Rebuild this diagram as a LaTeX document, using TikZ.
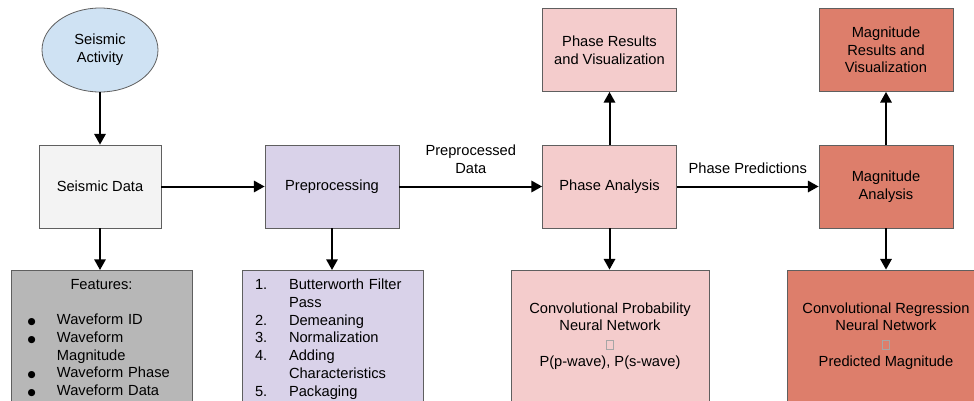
\documentclass[tikz,border=0pt]{standalone}
\usepackage{fontspec}
\setmainfont{Liberation Sans}
\newfontfamily\symfont{DejaVu Sans}
\usepackage{xcolor}
\definecolor{skyfill}{HTML}{CFE2F3}
\definecolor{datafill}{HTML}{F3F3F3}
\definecolor{prepfill}{HTML}{D9D2E9}
\definecolor{phasefill}{HTML}{F4CCCC}
\definecolor{magfill}{HTML}{DD7E6B}
\definecolor{featfill}{HTML}{B7B7B7}
\definecolor{edgegray}{HTML}{5F5F5F}
\usepackage{tikz}
\usetikzlibrary{shapes.geometric,arrows.meta,positioning}
\newcommand{\boxfont}{\fontsize{11}{13.3}\selectfont}
\newcommand{\dotmark}{{\symfont\fontsize{7}{7}\selectfont\char"25CF}}
\newcommand{\featline}[1]{\makebox[135.75pt][l]{\hspace*{12.5pt}\makebox[22pt][l]{\dotmark}#1}}
\newcommand{\featcont}[1]{\makebox[135.75pt][l]{\hspace*{34.5pt}#1}}
\newcommand{\stepline}[2]{\makebox[135.75pt][l]{\hspace*{9.75pt}\makebox[25.5pt][l]{#1}#2}}
\newcommand{\missglyph}{{\color{black!35}\fboxsep=0pt\fboxrule=0.5pt\fbox{\rule{0pt}{6pt}\hspace{4.5pt}}}}
\tikzset{
  srcnode/.style={
    ellipse, draw=edgegray, fill=skyfill, line width=0.6pt,
    minimum width=87pt, minimum height=63pt,
    align=center, font=\boxfont, inner sep=0pt
  },
  procbox/.style={
    draw=edgegray, fill=#1, line width=0.6pt,
    minimum width=100.5pt, minimum height=62.25pt,
    align=center, font=\boxfont, inner sep=3pt
  },
  listbox/.style={
    draw=edgegray, fill=#1, line width=0.6pt,
    text width=135.75pt, inner xsep=0pt, inner ysep=6.5pt,
    align=left, font=\boxfont, anchor=north
  },
  netbox/.style={
    draw=edgegray, fill=#1, line width=0.6pt,
    minimum width=148.5pt, minimum height=99pt,
    align=center, font=\boxfont, inner sep=2pt
  },
  flowarr/.style={-{Triangle[length=8pt,width=8.5pt]}, draw=black, line width=1.5pt},
  flowlbl/.style={font=\boxfont, align=center, inner sep=0pt}
}

\begin{document}
\begin{tikzpicture}[x=0.75pt,y=-0.75pt]
  \useasboundingbox (0,0) rectangle (974,400);
  \clip (0,0) rectangle (974,400);

  %% ---- source ----
  \node[srcnode] (act) at (100,50) {Seismic\\Activity};

  %% ---- main row ----
  \node[procbox=datafill, minimum width=91.5pt] (sd) at (100,186.5) {Seismic Data};
  \node[procbox=prepfill] (prep) at (332,186.5) {Preprocessing};
  \node[procbox=phasefill] (pa) at (609.5,186.5) {Phase Analysis};
  \node[procbox=magfill] (ma) at (886,186.5) {Magnitude\\Analysis};

  %% ---- results ----
  \node[procbox=phasefill] (pr) at (609.5,50) {Phase Results\\and Visualization};
  \node[procbox=magfill] (mr) at (886,50) {Magnitude\\Results and\\Visualization};

  %% ---- details ----
  \node[listbox=featfill] (feat) at (101.5,270) {
    \makebox[135.75pt][c]{Features:}\\[13.3pt]
    \featline{Waveform ID}\\
    \featline{Waveform}\\
    \featcont{Magnitude}\\
    \featline{Waveform Phase}\\
    \featline{Waveform Data}
  };
  \node[listbox=prepfill] (steps) at (332.5,270) {
    \stepline{1.}{Butterworth Filter}\\
    \stepline{}{Pass}\\
    \stepline{2.}{Demeaning}\\
    \stepline{3.}{Normalization}\\
    \stepline{4.}{Adding}\\
    \stepline{}{Characteristics}\\
    \stepline{5.}{Packaging}
  };
  \node[netbox=phasefill] (cpnn) at (610,336) {
    Convolutional Probability\\
    Neural Network\\
    \missglyph\\
    P(p-wave), P(s-wave)
  };
  \node[netbox=magfill] (crnn) at (886,336) {
    Convolutional Regression\\
    Neural Network\\
    \missglyph\\
    Predicted Magnitude
  };

  %% Connectors
  \draw[flowarr] (act) -- (sd);
  \draw[flowarr] (sd) -- (prep);
  \draw[flowarr] (prep) -- (pa)
    node[flowlbl,midway,above=9pt]{Preprocessed\\Data};
  \draw[flowarr] (pa) -- (ma)
    node[flowlbl,midway,above=9pt]{Phase Predictions};
  \draw[flowarr] (pa) -- (pr);
  \draw[flowarr] (ma) -- (mr);

  \draw[flowarr] (sd.south) -- (sd.south |- feat.north);
  \draw[flowarr] (prep.south) -- (prep.south |- steps.north);
  \draw[flowarr] (pa.south) -- (pa.south |- cpnn.north);
  \draw[flowarr] (ma.south) -- (ma.south |- crnn.north);

\end{tikzpicture}
\end{document}
